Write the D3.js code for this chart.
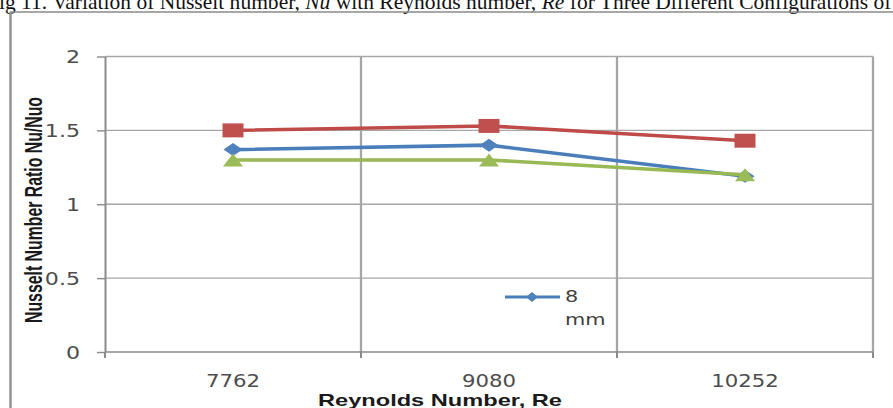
<!DOCTYPE html>
<html>
<head>
<meta charset="utf-8">
<script src="https://cdn.jsdelivr.net/npm/d3@7"></script>
<style>
  html, body { margin: 0; padding: 0; background: #fff; }
  svg { display: block; }
</style>
</head>
<body>
<svg id="chart" width="893" height="408"></svg>
<script>
// ---- data ----
const categories = ["7762", "9080", "10252"];
const series8mm = [1.37, 1.40, 1.19];
const seriesRed = [1.50, 1.53, 1.43];
const seriesGreen = [1.30, 1.30, 1.20];
const yTicks = [0, 0.5, 1, 1.5, 2];
const yTickLabels = ["0", "0.5", "1", "1.5", "2"];
const legendLines = ["8", "mm"];
const xTitle = "Reynolds Number, Re";
const yTitle = "Nusselt Number Ratio Nu/Nuo";
const captionParts = [
  { t: "Fig 11. Variation of Nusselt number, ", i: false },
  { t: "Nu", i: true },
  { t: " with Reynolds number, ", i: false },
  { t: "Re", i: true },
  { t: " for Three Different Configurations of", i: false }
];

const svg = d3.select("#chart");
const plot = { left: 105, right: 873, top: 56.5, bottom: 352 };

const x = d3.scaleBand().domain(categories).range([plot.left, plot.right]);
const y = d3.scaleLinear().domain([0, 2]).range([plot.bottom, plot.top]);
const cx = d => x(d) + x.bandwidth() / 2;

const gridColor = "#a6a6a6";
const axisColor = "#8a8a8a";
const labelColor = "#4d4d4d";

// widen a text element horizontally by a factor
function widen(sel, factor) {
  sel.each(function () {
    const w = this.getComputedTextLength();
    d3.select(this).attr("textLength", w * factor).attr("lengthAdjust", "spacingAndGlyphs");
  });
}

// ---- caption line at the top ----
const cap = svg.append("text")
  .attr("font-family", "'Liberation Serif', 'Times New Roman', serif")
  .attr("font-size", 20)
  .attr("fill", "#111");
captionParts.forEach(p => {
  cap.append("tspan").text(p.t).attr("font-style", p.i ? "italic" : "normal");
});
{
  const w = cap.node().getComputedTextLength();
  cap.attr("transform", `translate(-13,8.5) scale(${905 / w},1)`);
}

// ---- outer frame ----
svg.append("line").attr("x1", 10.5).attr("x2", 10.5).attr("y1", 12).attr("y2", 408)
  .attr("stroke", "#939393").attr("stroke-width", 2.5);
svg.append("line").attr("x1", 10).attr("x2", 893).attr("y1", 12).attr("y2", 12)
  .attr("stroke", "#8a8a8a").attr("stroke-width", 1.4);

// ---- gridlines ----
svg.append("g").selectAll("line").data(yTicks.filter(v => v > 0)).join("line")
  .attr("x1", plot.left).attr("x2", plot.right)
  .attr("y1", d => y(d)).attr("y2", d => y(d))
  .attr("stroke", gridColor).attr("stroke-width", 1.4);

const boundaries = categories.slice(1).map(c => x(c)).concat([plot.right]);
svg.append("g").selectAll("line").data(boundaries).join("line")
  .attr("x1", d => d).attr("x2", d => d)
  .attr("y1", plot.top).attr("y2", plot.bottom)
  .attr("stroke", gridColor).attr("stroke-width", 2.3);

// ---- x axis: baseline, boundary ticks, centred labels ----
svg.append("line").attr("x1", plot.left).attr("x2", plot.right)
  .attr("y1", plot.bottom).attr("y2", plot.bottom)
  .attr("stroke", axisColor).attr("stroke-width", 1.4);
svg.append("g").selectAll("line").data([plot.left].concat(boundaries)).join("line")
  .attr("x1", d => d).attr("x2", d => d)
  .attr("y1", plot.bottom).attr("y2", plot.bottom + 6)
  .attr("stroke", axisColor).attr("stroke-width", 2);

const xAxis = svg.append("g")
  .attr("transform", `translate(0,${plot.bottom})`)
  .call(d3.axisBottom(x).tickSize(0).tickPadding(0));
xAxis.select(".domain").remove();
xAxis.selectAll("text")
  .attr("y", 35).attr("dy", 0)
  .attr("font-family", "'DejaVu Sans', Verdana, sans-serif")
  .attr("font-size", 18).attr("fill", labelColor)
  .call(widen, 1.18);

// ---- y axis ----
const yAxis = svg.append("g")
  .attr("transform", `translate(${plot.left},0)`)
  .call(d3.axisLeft(y).tickValues(yTicks)
    .tickFormat((d, i) => yTickLabels[i]).tickSize(8).tickPadding(17).tickSizeOuter(0));
yAxis.select(".domain").attr("stroke", axisColor).attr("stroke-width", 2);
yAxis.selectAll(".tick line").attr("stroke", axisColor).attr("stroke-width", 1.4);
yAxis.selectAll("text")
  .attr("font-family", "'DejaVu Sans', Verdana, sans-serif")
  .attr("font-size", 17).attr("fill", labelColor).attr("dy", "0.36em")
  .call(widen, 1.3);

// ---- axis titles ----
const xt = svg.append("text")
  .attr("x", 440).attr("y", 405.5).attr("text-anchor", "middle")
  .attr("font-family", "'Liberation Sans', Arial, sans-serif")
  .attr("font-weight", "bold").attr("font-size", 17).attr("fill", "#1a1a1a")
  .text(xTitle);
xt.attr("textLength", 244).attr("lengthAdjust", "spacingAndGlyphs");

svg.append("g")
  .attr("transform", "translate(41.5,210) scale(1.6,1) rotate(-90)")
  .append("text")
  .attr("text-anchor", "middle")
  .attr("font-family", "'Liberation Sans', Arial, sans-serif")
  .attr("font-weight", "bold").attr("font-size", 14.5).attr("fill", "#1a1a1a")
  .attr("textLength", 226).attr("lengthAdjust", "spacingAndGlyphs")
  .text(yTitle);

// ---- series ----
const series = [
  { values: series8mm, line: "#4a7ebb", fill: "#4f81bd", shape: "diamond" },
  { values: seriesRed, line: "#be4b48", fill: "#c0504d", shape: "square" },
  { values: seriesGreen, line: "#98b954", fill: "#9bbb59", shape: "triangle" }
];

function markerPath(shape, w, h) {
  const a = w / 2, b = h / 2;
  if (shape === "square") return `M${-a},${-b}H${a}V${b}H${-a}Z`;
  if (shape === "diamond") return `M0,${-b}L${a},0L0,${b}L${-a},0Z`;
  return `M0,${-b}L${a},${b}H${-a}Z`;
}
const markerSize = { square: [21, 14], diamond: [19, 13], triangle: [20, 13] };

const line = d3.line().x((d, i) => cx(categories[i])).y(d => y(d));

series.forEach(s => {
  const g = svg.append("g");
  g.append("path").datum(s.values)
    .attr("d", line).attr("fill", "none")
    .attr("stroke", s.line).attr("stroke-width", 3.6)
    .attr("stroke-linejoin", "round").attr("stroke-linecap", "round");
  const [mw, mh] = markerSize[s.shape];
  g.selectAll("path.m").data(s.values).join("path").attr("class", "m")
    .attr("transform", (d, i) => `translate(${cx(categories[i])},${y(d)})`)
    .attr("d", markerPath(s.shape, mw, mh))
    .attr("fill", s.fill);
});

// ---- legend ----
const lg = svg.append("g");
lg.append("line").attr("x1", 505).attr("x2", 560).attr("y1", 297).attr("y2", 297)
  .attr("stroke", series[0].line).attr("stroke-width", 3);
lg.append("path").attr("transform", "translate(532,297)")
  .attr("d", markerPath("diamond", 12, 10)).attr("fill", series[0].fill);
lg.selectAll("text").data(legendLines).join("text")
  .attr("x", 565).attr("y", (d, i) => 302 + i * 23)
  .attr("font-family", "'DejaVu Sans', Verdana, sans-serif")
  .attr("font-size", 16).attr("fill", "#404040")
  .text(d => d)
  .call(widen, 1.3);
</script>
</body>
</html>
